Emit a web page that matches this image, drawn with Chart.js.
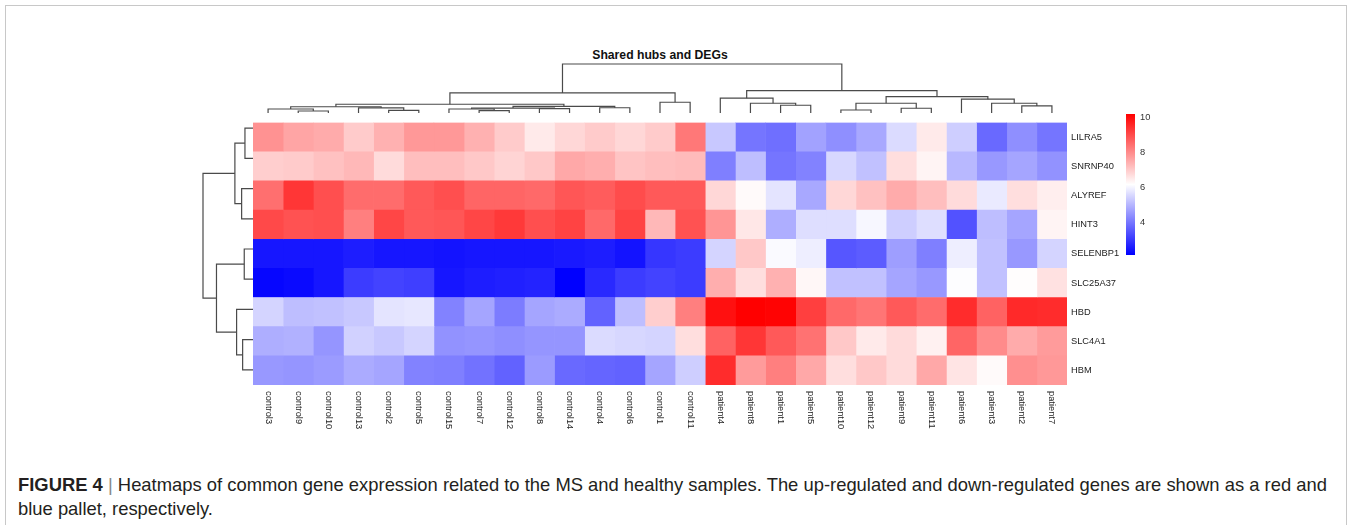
<!DOCTYPE html>
<html>
<head>
<meta charset="utf-8">
<script src="https://cdn.jsdelivr.net/npm/chart.js@4.4.1/dist/chart.umd.min.js"></script>
<style>
  body { margin: 0; background: #fff; }
  #wrap { position: relative; width: 1351px; height: 525px; overflow: hidden; font-family: "Liberation Sans", Arial, sans-serif; }
  #frame { position: absolute; left: 5px; top: 5px; width: 1340px; height: 600px; border: 1px solid #c8c8c8; }
  canvas { position: absolute; }
  #title { position: absolute; left: 253px; width: 814px; top: 48px; text-align: center; font-weight: bold; font-size: 12.2px; color: #111; }
  #caption { position: absolute; left: 18px; top: 473px; font-size: 18.4px; line-height: 24px; color: #231f20; white-space: nowrap; }
  #caption b { font-weight: bold; }
  #caption .bar { color: #888; }
</style>
</head>
<body>
<div id="wrap">
  <div id="frame"></div>
  <div id="title">Shared hubs and DEGs</div>
  <canvas id="colDendro" width="814" height="54" style="left:253px; top:60px;"></canvas>
  <canvas id="rowDendro" width="54" height="272" style="left:199px; top:113px;"></canvas>
  <canvas id="heatmap" width="934" height="342" style="left:253px; top:113px;"></canvas>
  <canvas id="colorbar" width="50" height="170" style="left:1126px; top:100px;"></canvas>
  <div id="caption"><b>FIGURE 4</b> <span class="bar">|</span> Heatmaps of common gene expression related to the MS and healthy samples. The up-regulated and down-regulated genes are shown as a red and<br>blue pallet, respectively.</div>
</div>
<script>
// Columnas (muestras) en el orden del dendrograma
const SAMPLES = ['control3', 'control9', 'control10', 'control13', 'control2', 'control5', 'control15', 'control7',
    'control12', 'control8', 'control14', 'control4', 'control6', 'control1', 'control11',
    'patient4', 'patient8', 'patient1', 'patient5', 'patient10', 'patient12', 'patient9', 'patient11',
    'patient6', 'patient3', 'patient2', 'patient7'];

// Filas (genes)
const GENES = ['LILRA5', 'SNRNP40', 'ALYREF', 'HINT3', 'SELENBP1', 'SLC25A37', 'HBD', 'SLC4A1', 'HBM'];

// Expresión por gen
const LILRA5 = [7.9, 7.6, 7.5, 7.0, 7.4, 7.8, 7.8, 7.4, 7.0, 6.5, 6.8, 7.0, 6.8, 7.0, 8.3, 5.3, 4.0, 3.9, 4.7, 4.4, 4.8, 5.6, 6.5, 5.4, 3.8, 4.4, 4.0];
const SNRNP40 = [6.95, 7.0, 7.15, 7.3, 6.75, 7.2, 7.2, 7.05, 6.85, 7.05, 7.55, 7.45, 7.1, 7.2, 7.25, 4.15, 5.15, 4.0, 4.2, 5.55, 5.2, 6.7, 6.35, 5.05, 4.55, 4.75, 4.45];
const ALYREF = [8.45, 9.35, 8.95, 8.5, 8.5, 8.8, 8.95, 8.6, 8.6, 8.55, 8.85, 8.75, 9.0, 8.8, 8.8, 6.8, 6.25, 5.75, 4.8, 6.8, 7.15, 7.5, 7.2, 6.75, 5.85, 6.7, 6.45];
const HINT3 = [9.05, 8.9, 8.95, 8.2, 9.1, 8.8, 8.85, 9.1, 9.3, 8.95, 9.15, 8.55, 9.15, 7.3, 8.9, 7.85, 6.55, 4.9, 5.65, 5.65, 6.05, 5.4, 5.65, 3.45, 5.15, 4.75, 6.35];
const SELENBP1 = [2.5, 2.5, 2.5, 2.6, 2.5, 2.5, 2.45, 2.5, 2.5, 2.5, 2.55, 2.6, 2.45, 3.0, 3.1, 5.5, 7.05, 6.1, 5.9, 3.5, 3.6, 4.65, 4.15, 5.9, 5.2, 4.55, 5.5];
const SLC25A37 = [2.25, 2.3, 2.5, 3.1, 3.2, 3.15, 2.5, 2.6, 2.65, 2.7, 2.15, 2.8, 3.1, 3.2, 3.1, 7.45, 6.7, 7.4, 6.3, 5.2, 5.2, 4.75, 4.55, 6.15, 5.2, 6.2, 6.65];
const HBD = [5.5, 5.15, 5.2, 5.3, 5.75, 5.8, 4.2, 4.75, 4.1, 4.75, 4.85, 3.7, 5.15, 6.95, 8.2, 9.95, 10.2, 10.15, 9.2, 8.55, 8.35, 8.8, 8.5, 9.5, 8.65, 9.55, 9.5];
const SLC4A1 = [4.9, 4.95, 4.5, 5.45, 5.3, 5.5, 4.45, 4.5, 4.4, 4.5, 4.5, 5.6, 5.55, 5.5, 6.7, 8.65, 9.35, 8.8, 8.4, 7.05, 6.5, 6.75, 6.4, 8.6, 8.0, 7.5, 7.75];
const HBM = [4.55, 4.5, 4.6, 4.85, 4.75, 4.2, 4.15, 3.95, 3.7, 4.6, 3.8, 3.75, 3.7, 4.75, 5.4, 9.5, 7.75, 8.2, 7.55, 6.7, 7.05, 6.75, 7.55, 6.6, 6.25, 7.95, 7.8];
const EXPR = [LILRA5, SNRNP40, ALYREF, HINT3, SELENBP1, SLC25A37, HBD, SLC4A1, HBM];

// Escala de color y marcas de la leyenda
const VMIN = 2.15;
const VMAX = 10.2;
const LEGEND_TICKS = [4, 6, 8, 10];

// Dendrogramas estilo hclust: negativo = hoja (posición 1..n), positivo = fusión anterior
const COL_MERGES = [[-2, -3], [-1, 1], [-5, -6], [-4, 3], [2, 4], [-8, -9], [-7, 6], [-10, -11], [7, 8],
    [-12, -13], [9, 10], [5, 11], [-14, -15], [12, 13], [-18, -19], [-17, 15], [-16, 16], [-20, -21],
    [-22, -23], [18, 19], [-26, -27], [-25, 21], [-24, 22], [20, 23], [17, 24], [14, 25]];
const COL_HEIGHTS = [2, 4, 2.7, 5, 6.2, 2.3, 4, 4.3, 4.9, 5.2, 6.5, 8.7, 10.7, 20, 7.7, 9.7, 14.7, 3, 4.7,
    9.7, 7, 9.7, 13.7, 16.3, 22.3, 48.7];
const ROW_MERGES = [[-1, -2], [-3, -4], [1, 2], [-5, -6], [-8, -9], [-7, 5], [4, 6], [3, 7]];
const ROW_HEIGHTS = [8, 11.3, 18, 8.7, 10.3, 16.3, 36.3, 49.7];

const LABEL_FONT = { family: 'Liberation Sans, Arial, sans-serif', size: 9.3 };

// Color azul-blanco-rojo según el valor
function colorFor(v) {
    let t = (v - VMIN) / (VMAX - VMIN);
    t = Math.max(0, Math.min(1, t));
    if (t < 0.5) {
        const k = Math.round(255 * t / 0.5);
        return `rgb(${k},${k},255)`;
    }
    const k = Math.round(255 * (1 - (t - 0.5) / 0.5));
    return `rgb(255,${k},${k})`;
}

// Convierte las fusiones en segmentos en forma de U (posición, altura)
function dendroSegments(merges, heights) {
    const pos = [];
    const segs = [];
    merges.forEach((m, i) => {
        const pts = m.map(c => c < 0 ? { p: -c - 1, h: 0 } : { p: pos[c - 1], h: heights[c - 1] });
        const h = heights[i];
        pos.push((pts[0].p + pts[1].p) / 2);
        segs.push([
            { p: pts[0].p, h: pts[0].h }, { p: pts[0].p, h: h },
            { p: pts[1].p, h: h }, { p: pts[1].p, h: pts[1].h }
        ]);
    });
    return segs;
}

const baseOpts = {
    responsive: false,
    animation: false,
    devicePixelRatio: 1,
    plugins: { legend: { display: false }, tooltip: { enabled: false } },
    events: []
};

function lineDataset(points) {
    return {
        data: points,
        showLine: true,
        pointRadius: 0,
        borderColor: '#4a4a4a',
        borderWidth: 1.2,
        fill: false,
        clip: false
    };
}

// Dendrograma de columnas (arriba)
const colSegs = dendroSegments(COL_MERGES, COL_HEIGHTS);
new Chart(document.getElementById('colDendro'), {
    type: 'scatter',
    data: { datasets: colSegs.map(s => lineDataset(s.map(q => ({ x: q.p, y: q.h })))) },
    options: {
        ...baseOpts,
        layout: { padding: { top: 4, bottom: 1 } },
        scales: {
            x: { type: 'linear', min: -0.5, max: SAMPLES.length - 0.5, display: false },
            y: { type: 'linear', min: 0, max: COL_HEIGHTS[COL_HEIGHTS.length - 1], display: false }
        }
    }
});

// Dendrograma de filas (izquierda)
const rowSegs = dendroSegments(ROW_MERGES, ROW_HEIGHTS);
new Chart(document.getElementById('rowDendro'), {
    type: 'scatter',
    data: { datasets: rowSegs.map(s => lineDataset(s.map(q => ({ x: q.h, y: q.p })))) },
    options: {
        ...baseOpts,
        layout: { padding: { left: 4, right: 0 } },
        scales: {
            x: { type: 'linear', min: 0, max: ROW_HEIGHTS[ROW_HEIGHTS.length - 1], reverse: true, display: false },
            y: { type: 'linear', min: -0.5, max: GENES.length - 0.5, reverse: true, display: false }
        }
    }
});

// Etiquetas de muestras giradas 90° bajo el mapa de calor
const sampleLabels = {
    id: 'sampleLabels',
    afterDraw(chart) {
        const { ctx, chartArea, scales } = chart;
        ctx.save();
        ctx.fillStyle = '#222';
        ctx.font = `${LABEL_FONT.size}px ${LABEL_FONT.family}`;
        ctx.textAlign = 'left';
        ctx.textBaseline = 'middle';
        SAMPLES.forEach((s, i) => {
            const x = scales.x.getPixelForValue(i);
            ctx.save();
            ctx.translate(x, chartArea.bottom + 6);
            ctx.rotate(Math.PI / 2);
            ctx.fillText(s, 0, 0);
            ctx.restore();
        });
        ctx.restore();
    }
};

// Mapa de calor: una serie por muestra, barras flotantes horizontales
new Chart(document.getElementById('heatmap'), {
    type: 'bar',
    data: {
        labels: GENES,
        datasets: SAMPLES.map((s, c) => ({
            label: s,
            data: GENES.map(() => [c - 0.5, c + 0.5]),
            backgroundColor: EXPR.map(row => colorFor(row[c])),
            borderWidth: 0,
            barPercentage: 1,
            categoryPercentage: 1,
            grouped: false
        }))
    },
    options: {
        ...baseOpts,
        indexAxis: 'y',
        layout: { padding: { bottom: 70 } },
        scales: {
            x: { type: 'linear', min: -0.5, max: SAMPLES.length - 0.5, display: false },
            y: {
                type: 'category',
                position: 'right',
                grid: { display: false, drawTicks: false },
                border: { display: false },
                ticks: { font: LABEL_FONT, color: '#222', padding: 4 },
                afterFit: scale => { scale.width = 120; }
            }
        }
    },
    plugins: [sampleLabels]
});

// Barra de color de la leyenda
new Chart(document.getElementById('colorbar'), {
    type: 'bar',
    data: {
        labels: [''],
        datasets: [{
            data: [[VMIN, VMAX]],
            barPercentage: 1,
            categoryPercentage: 1,
            borderWidth: 0,
            backgroundColor: ctx => {
                const area = ctx.chart.chartArea;
                if (!area) return '#fff';
                const g = ctx.chart.ctx.createLinearGradient(0, area.bottom, 0, area.top);
                g.addColorStop(0, colorFor(VMIN));
                g.addColorStop(0.5, colorFor((VMIN + VMAX) / 2));
                g.addColorStop(1, colorFor(VMAX));
                return g;
            }
        }]
    },
    options: {
        ...baseOpts,
        layout: { padding: { top: 14, bottom: 15 } },
        scales: {
            x: { display: false },
            y: {
                type: 'linear',
                position: 'right',
                min: VMIN,
                max: VMAX,
                grid: { display: false, drawTicks: false },
                border: { display: false },
                ticks: { font: LABEL_FONT, color: '#333', padding: 5 },
                afterBuildTicks: scale => { scale.ticks = LEGEND_TICKS.map(v => ({ value: v })); },
                afterFit: scale => { scale.width = 41; }
            }
        }
    }
});
</script>
</body>
</html>
